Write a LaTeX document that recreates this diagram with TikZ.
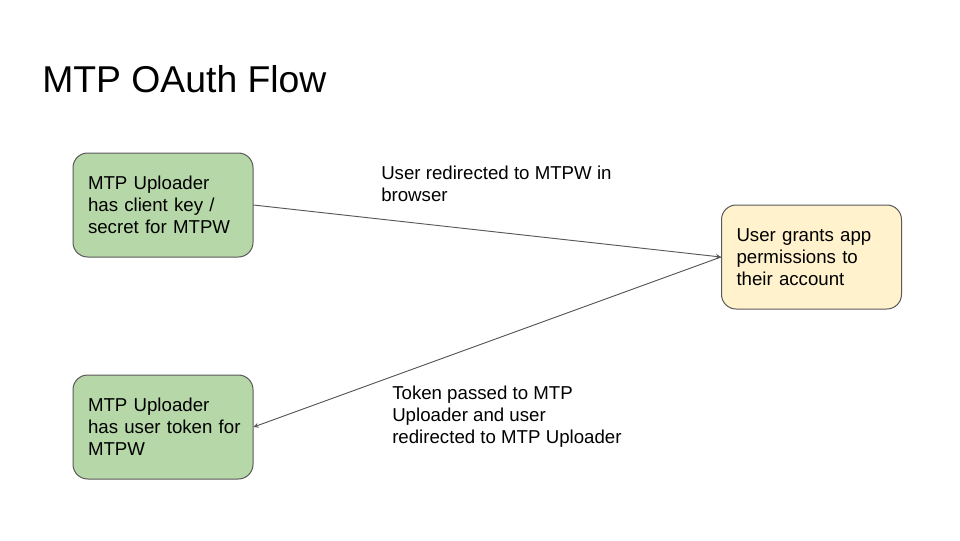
\documentclass[tikz,border=0pt]{standalone}
\usepackage{fontspec}
\setmainfont{Liberation Sans}
\usetikzlibrary{calc,shapes,arrows}
\definecolor{boxgreen}{HTML}{B6D7A8}
\definecolor{boxyellow}{HTML}{FFF2CC}
\definecolor{edgegray}{HTML}{595959}

\begin{document}
\begin{tikzpicture}[x=0.75pt,y=-0.75pt,
    stepbox/.style={draw=edgegray, line width=0.75pt, rounded corners=11pt, minimum width=135pt, minimum height=78pt, text width=112.5pt, inner xsep=11.25pt, align=left, font=\fontsize{14}{16.5}\selectfont},
    flowlabel/.style={anchor=west, align=left, inner sep=0pt, font=\fontsize{14}{16.5}\selectfont},
    flowedge/.style={draw=edgegray, line width=0.7pt, -stealth}]
  \useasboundingbox [fill=white] (0,0) rectangle (960,540);

  \node [anchor=base west, inner sep=0pt, font=\fontsize{28}{32}\selectfont] (title) at (42,92) {MTP OAuth Flow};

    \node [stepbox, fill=boxgreen] (uploader) at (163,205) {MTP Uploader\\has client key /\\secret for MTPW};
    \node [stepbox, fill=boxyellow] (grant) at (811.5,257) {User grants app\\permissions to\\their account};
    \node [stepbox, fill=boxgreen] (token) at (163,427) {MTP Uploader\\\mbox{has user token for}\\MTPW};

  \draw [flowedge] (uploader.east) -- (grant.west);
  \draw [flowedge] (grant.west) -- (token.east);

    \node [flowlabel] (redirect) at (381,184) {User redirected to MTPW in\\browser};
    \node [flowlabel] (passed) at (392,417) {Token passed to MTP\\Uploader and user\\redirected to MTP Uploader};
  \end{tikzpicture}
\end{document}
